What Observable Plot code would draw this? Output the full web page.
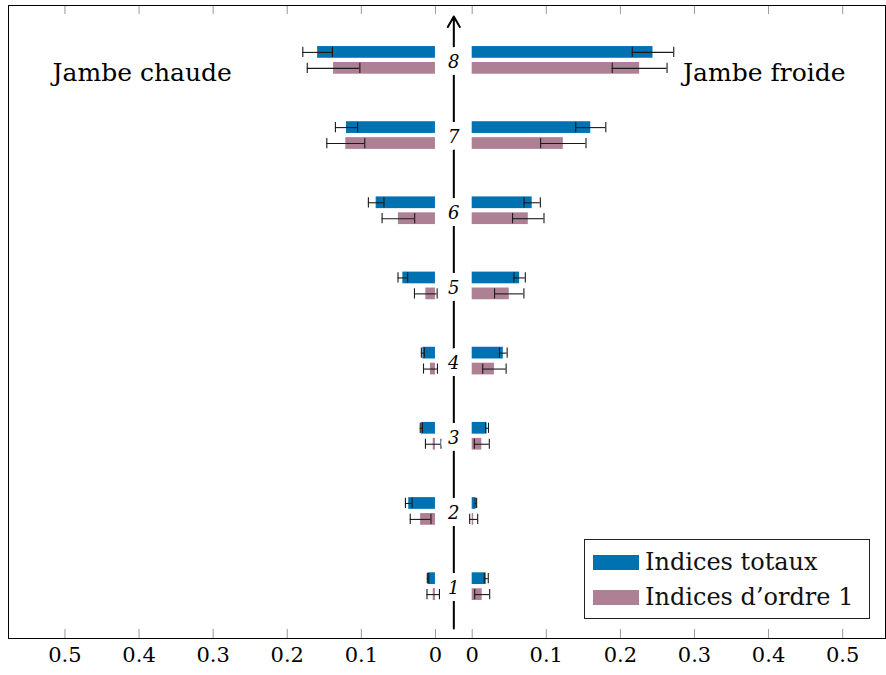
<!DOCTYPE html>
<html>
<head>
<meta charset="utf-8">
<script src="https://cdn.jsdelivr.net/npm/d3@7"></script>
<script src="https://cdn.jsdelivr.net/npm/@observablehq/plot@0.6"></script>
<style>
  body { margin: 0; background: white; }
  #wrap { position: relative; width: 886px; height: 675px; font-family: "DejaVu Serif", "Liberation Serif", serif; }
  #legend { position: absolute; left: 584px; top: 539px; width: 286px; height: 80px; border: 1px solid #222; background: white; box-sizing: border-box; }
  .item { position: absolute; left: 8px; display: flex; align-items: center; font-size: 24px; color: #111; white-space: nowrap; }
  .sw { width: 46px; height: 15px; margin-right: 6px; }
</style>
</head>
<body>
<div id="wrap">
  <div id="chart"></div>
  <div id="legend">
    <div class="item" style="top:8px"><span class="sw" style="background:#0072b2"></span>Indices totaux</div>
    <div class="item" style="top:43px"><span class="sw" style="background:#ad8094"></span>Indices d’ordre 1</div>
  </div>
</div>
<script>
// Categories (center labels)
const categories = [1, 2, 3, 4, 5, 6, 7, 8];
// Jambe chaude (left)
const leftTotal    = [0.010, 0.036, 0.019, 0.017, 0.044, 0.080, 0.120, 0.159];
const leftTotalErr = [0.001, 0.0045, 0.0015, 0.002, 0.0065, 0.0105, 0.015, 0.020];
const leftFirst    = [0.003, 0.020, 0.003, 0.0067, 0.013, 0.050, 0.121, 0.1375];
const leftFirstErr = [0.0084, 0.014, 0.0105, 0.0094, 0.0153, 0.022, 0.0256, 0.0355];
// Jambe froide (right)
const rightTotal    = [0.019, 0.005, 0.020, 0.042, 0.064, 0.081, 0.160, 0.244];
const rightTotalErr = [0.0027, 0.001, 0.002, 0.0052, 0.0077, 0.011, 0.0203, 0.028];
const rightFirst    = [0.0135, 0.002, 0.013, 0.030, 0.050, 0.0757, 0.123, 0.226];
const rightFirstErr = [0.0101, 0.0054, 0.0101, 0.0158, 0.0198, 0.0212, 0.0306, 0.037];
// Axis tick values
const tickValues = [0, 0.1, 0.2, 0.3, 0.4, 0.5];
const seriesNames = ["Indices totaux", "Indices d’ordre 1"];
const seriesColors = ["#0072b2", "#ad8094"];

// layout helpers
const gap = 0.0248;                 // half gap between the two zero lines
const pos = (side, v) => side * (gap + v);
const offset = {"Indices totaux": 0.106, "Indices d’ordre 1": -0.106};
const halfH = 0.078, capH = 0.068;
const yMin = 0.31, yMax = 8.73;
const serif = "'DejaVu Serif', 'Liberation Serif', serif";

const rows = [];
categories.forEach((c, i) => {
  rows.push({cat: c, side: -1, series: seriesNames[0], value: leftTotal[i], err: leftTotalErr[i]});
  rows.push({cat: c, side: -1, series: seriesNames[1], value: leftFirst[i], err: leftFirstErr[i]});
  rows.push({cat: c, side: 1, series: seriesNames[0], value: rightTotal[i], err: rightTotalErr[i]});
  rows.push({cat: c, side: 1, series: seriesNames[1], value: rightFirst[i], err: rightFirstErr[i]});
});
const tickPos = [...tickValues.map(v => pos(-1, v)), ...tickValues.map(v => pos(1, v))];
const fmt = d => String(Math.round((Math.abs(d) - gap) * 10) / 10);
const yc = d => d.cat + offset[d.series];

const chart = Plot.plot({
  width: 886,
  height: 675,
  marginLeft: 8,
  marginRight: 1,
  marginTop: 5,
  marginBottom: 37,
  x: {domain: [-0.601, 0.5826], axis: null},
  y: {domain: [yMin, yMax], axis: null},
  color: {domain: seriesNames, range: seriesColors},
  style: {fontFamily: serif, background: "white", color: "black"},
  marks: [
    Plot.tickX(tickPos, {x: d => d, insetTop: 624, stroke: "#999"}),
    Plot.tickX(tickPos, {x: d => d, insetBottom: 624, stroke: "#999"}),
    Plot.axisX({ticks: tickPos, tickFormat: fmt, tickSize: 0, tickPadding: 9, fontSize: 21, label: null}),
    Plot.rectX(rows, {
      x1: d => pos(d.side, 0), x2: d => pos(d.side, d.value),
      y1: d => yc(d) - halfH, y2: d => yc(d) + halfH,
      fill: "series"
    }),
    Plot.ruleY(rows, {y: yc, x1: d => pos(d.side, d.value - d.err), x2: d => pos(d.side, d.value + d.err), stroke: "#1a1a1a", strokeWidth: 1.1}),
    Plot.ruleX(rows, {x: d => pos(d.side, d.value - d.err), y1: d => yc(d) - capH, y2: d => yc(d) + capH, stroke: "#1a1a1a", strokeWidth: 1.1}),
    Plot.ruleX(rows, {x: d => pos(d.side, d.value + d.err), y1: d => yc(d) - capH, y2: d => yc(d) + capH, stroke: "#1a1a1a", strokeWidth: 1.1}),
    Plot.arrow([0], {x1: () => 0, x2: () => 0, y1: () => yMin, y2: () => yMax, insetStart: 10, insetEnd: 11, headLength: 9, stroke: "black", strokeWidth: 2}),
    Plot.text(categories, {x: () => 0, y: d => d, text: d => String(d), fontStyle: "italic", fontSize: 18, dy: 2, fill: "black", stroke: "white", strokeWidth: 14}),
    Plot.text(["Jambe chaude"], {frameAnchor: "top-left", textAnchor: "start", dx: 44, dy: 58, fontSize: 25, fill: "black", text: d => d}),
    Plot.text(["Jambe froide"], {frameAnchor: "top-right", textAnchor: "end", dx: -40, dy: 58, fontSize: 25, fill: "black", text: d => d}),
    Plot.frame({stroke: "black"})
  ]
});
document.getElementById("chart").appendChild(chart);
</script>
</body>
</html>
